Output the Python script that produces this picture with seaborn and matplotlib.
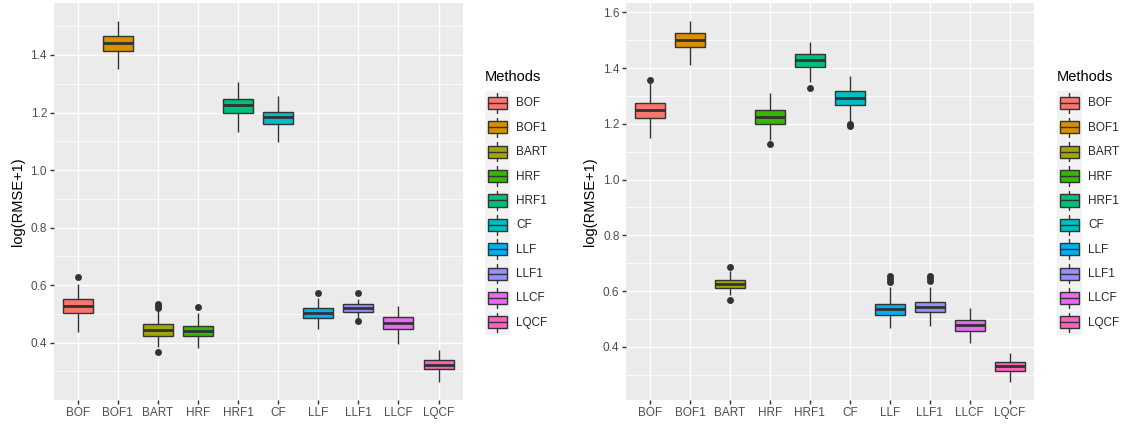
import numpy as np
import pandas as pd
import matplotlib
matplotlib.use("Agg")
import matplotlib.pyplot as plt
import seaborn as sns
from matplotlib.ticker import MultipleLocator
from matplotlib.patches import Patch, Rectangle
from matplotlib.lines import Line2D
from matplotlib.legend_handler import HandlerBase

# ---------------- data ----------------
methods = ["BOF", "BOF1", "BART", "HRF", "HRF1", "CF", "LLF", "LLF1", "LLCF", "LQCF"]
colors = ["#F8766D", "#D89000", "#A3A500", "#39B600", "#00BF7D",
          "#00BFC4", "#00B0F6", "#9590FF", "#E76BF3", "#FF62BC"]

left_wlo = [0.438, 1.350, 0.386, 0.380, 1.133, 1.099, 0.446, 0.486, 0.394, 0.263]
left_q1  = [0.504, 1.415, 0.424, 0.423, 1.200, 1.159, 0.485, 0.508, 0.449, 0.308]
left_med = [0.529, 1.442, 0.443, 0.441, 1.225, 1.183, 0.502, 0.521, 0.470, 0.324]
left_q3  = [0.551, 1.466, 0.464, 0.458, 1.247, 1.203, 0.519, 0.533, 0.488, 0.341]
left_whi = [0.603, 1.518, 0.510, 0.504, 1.307, 1.257, 0.556, 0.553, 0.527, 0.375]
left_out = [[0.627], [], [0.533, 0.526, 0.519, 0.366], [0.523], [], [],
            [0.572], [0.572, 0.475], [], []]

right_wlo = [1.148, 1.409, 0.587, 1.142, 1.351, 1.208, 0.467, 0.475, 0.413, 0.275]
right_q1  = [1.221, 1.476, 0.612, 1.200, 1.404, 1.269, 0.515, 0.526, 0.457, 0.315]
right_med = [1.249, 1.501, 0.627, 1.226, 1.429, 1.293, 0.535, 0.543, 0.479, 0.332]
right_q3  = [1.275, 1.524, 0.640, 1.250, 1.451, 1.317, 0.554, 0.563, 0.497, 0.347]
right_whi = [1.348, 1.569, 0.674, 1.310, 1.492, 1.372, 0.614, 0.614, 0.539, 0.377]
right_out = [[1.357], [], [0.688, 0.569], [1.126], [1.327], [1.200, 1.192],
             [0.655, 0.645, 0.634], [0.655, 0.647, 0.637], [], []]

y_label = "log(RMSE+1)"
legend_title = "Methods"

# ---------------- style ----------------
sns.set_theme(style="darkgrid", rc={
    "axes.facecolor": "#EBEBEB",
    "figure.facecolor": "white",
    "grid.color": "white",
})
plt.rcParams["font.family"] = ["Liberation Sans", "DejaVu Sans"]

W, H = 1125, 425
fig = plt.figure(figsize=(W / 100, H / 100), dpi=100)

EDGE = "#333333"


def build_frames(wlo, q1, med, q3, whi, out):
    rows = []
    for m, a, b, c, d, e in zip(methods, wlo, q1, med, q3, whi):
        for v in (a, b, c, d, e):
            rows.append((m, v))
    box_df = pd.DataFrame(rows, columns=["Method", "value"])
    orow = [(m, v) for m, vs in zip(methods, out) for v in vs]
    out_df = pd.DataFrame(orow, columns=["Method", "value"])
    return box_df, out_df


def draw_panel(rect, wlo, q1, med, q3, whi, out, ylim, yticks):
    ax = fig.add_axes(rect)
    box_df, out_df = build_frames(wlo, q1, med, q3, whi, out)
    sns.boxplot(data=box_df, x="Method", y="value", hue="Method",
                order=methods, hue_order=methods, palette=colors,
                width=0.75, whis=(0, 100), saturation=1, linecolor=EDGE,
                linewidth=1.0, showcaps=False, fliersize=0,
                medianprops=dict(linewidth=2.05, color=EDGE),
                legend=False, ax=ax)
    sns.stripplot(data=out_df, x="Method", y="value", order=methods,
                  jitter=False, color=EDGE, size=5.0, linewidth=0,
                  ax=ax, zorder=5)
    ax.set_xlim(-0.6, len(methods) - 0.4)
    ax.set_ylim(*ylim)
    ax.set_yticks(yticks)
    ax.set_yticklabels([f"{t:.1f}" for t in yticks])
    ax.yaxis.set_minor_locator(MultipleLocator(0.1))
    ax.grid(which="major", color="white", linewidth=1.02)
    ax.grid(which="minor", axis="y", color="white", linewidth=0.51)
    ax.set_axisbelow(True)
    for s in ax.spines.values():
        s.set_visible(False)
    ax.tick_params(which="major", length=2.64, width=1.02, color=EDGE,
                   labelsize=8.45, labelcolor="#4D4D4D", pad=2.1,
                   bottom=True, left=True)
    ax.tick_params(which="minor", length=0)
    ax.set_xlabel("")
    ax.set_ylabel(y_label, fontsize=10.5, color="black", labelpad=4)
    return ax


class BoxKey(HandlerBase):
    def create_artists(self, legend, orig_handle, xdescent, ydescent,
                       width, height, fontsize, trans):
        x0, y0 = -xdescent, -ydescent
        col = orig_handle.get_facecolor()
        bg = Rectangle((x0, y0), width, height, facecolor="#F2F2F2",
                       edgecolor="none", transform=trans)
        cx = x0 + width / 2
        w1 = Line2D([cx, cx], [y0 + 0.1 * height, y0 + 0.25 * height],
                    color=EDGE, lw=1.0, transform=trans)
        w2 = Line2D([cx, cx], [y0 + 0.75 * height, y0 + 0.9 * height],
                    color=EDGE, lw=1.0, transform=trans)
        bx = Rectangle((x0 + 0.11 * width, y0 + 0.25 * height), 0.78 * width,
                       0.5 * height, facecolor=col, edgecolor=EDGE, lw=1.0,
                       transform=trans)
        md = Line2D([x0 + 0.11 * width, x0 + 0.89 * width],
                    [y0 + 0.5 * height] * 2, color=EDGE, lw=1.0,
                    transform=trans)
        return [bg, w1, w2, bx, md]


def add_legend(x_px, title_y_px, keys_top_px):
    handles = [Patch(facecolor=c, edgecolor=EDGE) for c in colors]
    fig.text(x_px / W, 1 - title_y_px / H, legend_title, fontsize=10.5,
             color="black", ha="left", va="center")
    fig.legend(handles, methods, handler_map={Patch: BoxKey()},
               loc="upper left",
               bbox_to_anchor=(x_px / W, 1 - keys_top_px / H),
               bbox_transform=fig.transFigure, frameon=False,
               fontsize=8.45, handlelength=2.13, handleheight=2.82,
               labelspacing=0, handletextpad=0.55, borderpad=0,
               borderaxespad=0)


draw_panel([53.6 / W, 25 / H, 409 / W, 397 / H],
           left_wlo, left_q1, left_med, left_q3, left_whi, left_out,
           (0.2008, 1.5807), [0.4, 0.6, 0.8, 1.0, 1.2, 1.4])
add_legend(485, 77, 90.7)

draw_panel([626 / W, 25 / H, 407.7 / W, 397 / H],
           right_wlo, right_q1, right_med, right_q3, right_whi, right_out,
           (0.210, 1.633), [0.4, 0.6, 0.8, 1.0, 1.2, 1.4, 1.6])
add_legend(1057, 77, 90.7)

fig.savefig("out.png", dpi=100)
